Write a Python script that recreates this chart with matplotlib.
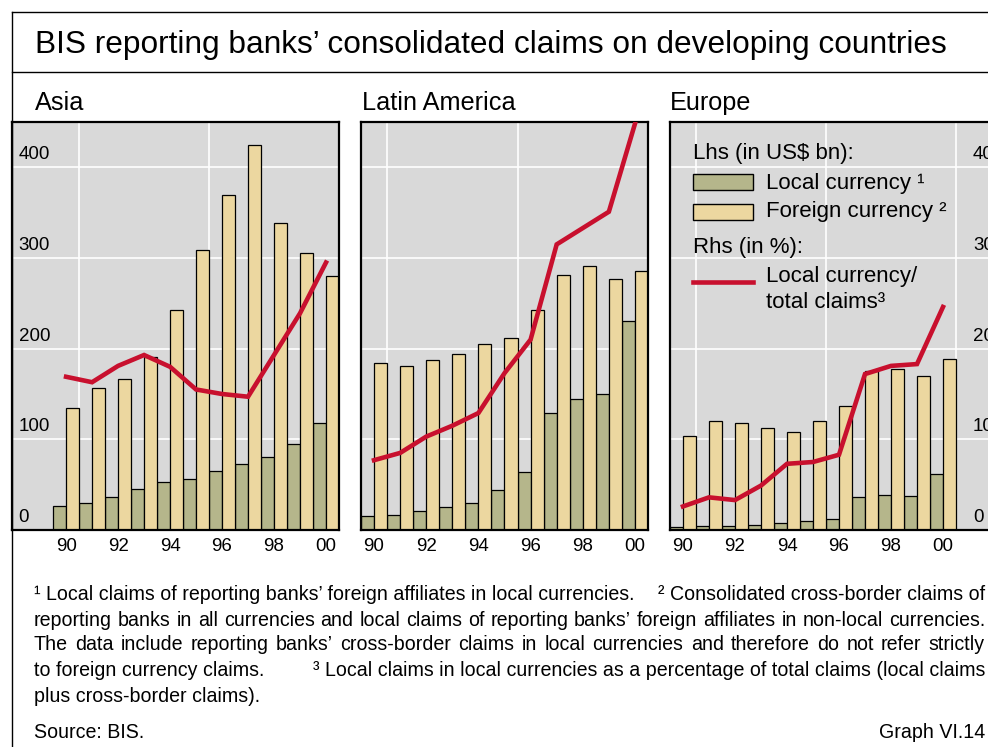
import numpy as np
import matplotlib
matplotlib.use("Agg")
import matplotlib.pyplot as plt
from matplotlib import transforms
from matplotlib.patches import Rectangle
from matplotlib.lines import Line2D

plt.rcParams['font.family'] = ['Liberation Sans', 'DejaVu Sans']

years = np.arange(1990, 2001)
tick_years = [1990, 1992, 1994, 1996, 1998, 2000]
year_labels = ["90", "92", "94", "96", "98", "00"]

# US$ bn (lhs) and % of total claims (rhs)
asia_local = [27, 30, 36, 45, 53, 56, 65, 73, 81, 95, 118]
asia_foreign = [135, 157, 166, 191, 243, 309, 369, 425, 339, 305, 280]
asia_share = [16.9, 16.3, 18.1, 19.3, 18.0, 15.5, 15.0, 14.7, 19.3, 23.9, 29.5]

latam_local = [15, 17, 21, 25, 30, 44, 64, 129, 144, 150, 231]
latam_foreign = [184, 181, 187, 194, 205, 212, 243, 281, 291, 277, 286]
latam_share = [7.7, 8.5, 10.3, 11.5, 12.9, 17.3, 21.0, 31.5, 33.3, 35.1, 44.8]

europe_local = [3, 4, 4, 5, 8, 10, 12, 36, 39, 38, 62]
europe_foreign = [104, 120, 118, 113, 108, 120, 137, 175, 178, 170, 189]
europe_share = [2.6, 3.6, 3.3, 4.9, 7.3, 7.5, 8.3, 17.2, 18.1, 18.3, 24.6]

lhs_ticks = [0, 100, 200, 300, 400]
rhs_ticks = [0, 10, 20, 30, 40]

GREEN = '#b5b68b'
TAN = '#ecd7a0'
GREY = '#d9d9d9'
RED = '#c8102e'

W, H = 988, 747
fig = plt.figure(figsize=(W / 100, H / 100), dpi=100)


def fx(x):
    return x / W


def fy(y):
    return 1 - y / H


def box(l, t, r, b):
    return [l / W, 1 - b / H, (r - l) / W, (b - t) / H]


# frame
for xs, ys in [([11.5, 11.5], [12, H]), ([11.5, W], [12, 12]), ([11.5, W], [72, 72])]:
    fig.add_artist(Line2D([fx(v) for v in xs], [fy(v) for v in ys],
                          transform=fig.transFigure, color='black', lw=1))

fig.text(fx(35), fy(45), "BIS reporting banks’ consolidated claims on developing countries",
         fontsize=22.8, va='center', ha='left')

panels = [
    ("Asia", 35, (11.5, 339), (1987.9, 2000.5), asia_local, asia_foreign, asia_share, 'left'),
    ("Latin America", 362, (361, 648), (1989.5, 2000.5), latam_local, latam_foreign, latam_share, None),
    ("Europe", 670, (670, 997.6), (1989.5, 2002.1), europe_local, europe_foreign, europe_share, 'right'),
]

for name, tx, (l, r), xlim, local, foreign, share, labels in panels:
    fig.text(fx(tx), fy(103), name, fontsize=18.2, va='center', ha='left')
    ax = fig.add_axes(box(l, 122, r, 530))
    ax.set_facecolor(GREY)
    ax.bar(years - 0.25, local, width=0.5, color=GREEN, edgecolor='black', lw=0.9, zorder=2)
    ax.bar(years + 0.25, foreign, width=0.5, color=TAN, edgecolor='black', lw=0.9, zorder=2)
    ax.set_xlim(*xlim)
    ax.set_ylim(0, 450)
    ax.set_yticks(lhs_ticks)
    ax.set_yticklabels([])
    ax.set_xticks(tick_years)
    ax.set_xticklabels(year_labels, fontsize=13.5)
    ax.set_xticks([1990.5, 1995.5, 2000.5], minor=True)
    ax.tick_params(which='both', length=0)
    ax.tick_params(axis='x', pad=6)
    ax.grid(True, which='major', axis='y', color='white', lw=1.2, zorder=1)
    ax.grid(True, which='minor', axis='x', color='white', lw=1.2, zorder=1)
    ax.set_axisbelow(True)
    for s in ax.spines.values():
        s.set_linewidth(1.6)

    ax2 = ax.twinx()
    ax2.set_ylim(0, 45)
    ax2.set_yticks([])
    ax2.plot(years, share, color=RED, lw=3.3, solid_joinstyle='miter', zorder=3)
    for s in ax2.spines.values():
        s.set_visible(False)

    if labels == 'left':
        trans = transforms.offset_copy(transforms.blended_transform_factory(ax.transAxes, ax.transData),
                                       fig=fig, y=8, units='dots')
        for v in lhs_ticks:
            ax.text(0.022, v, str(v), transform=trans, fontsize=13.5, ha='left', va='baseline')
    elif labels == 'right':
        trans = transforms.offset_copy(transforms.blended_transform_factory(ax2.transAxes, ax2.transData),
                                       fig=fig, y=8, units='dots')
        for v in rhs_ticks:
            ax2.text(0.925, v, str(v), transform=trans, fontsize=13.5, ha='left', va='baseline')

# legend drawn inside the Europe panel
lfs = 16
fig.text(fx(693), fy(153), "Lhs (in US$ bn):", fontsize=lfs, va='center')
fig.add_artist(Rectangle((fx(693), fy(189.5)), 60 / W, 15 / H, transform=fig.transFigure,
                         facecolor=GREEN, edgecolor='black', lw=1))
fig.text(fx(766), fy(183), "Local currency ¹", fontsize=lfs, va='center')
fig.add_artist(Rectangle((fx(693), fy(219.5)), 60 / W, 15 / H, transform=fig.transFigure,
                         facecolor=TAN, edgecolor='black', lw=1))
fig.text(fx(766), fy(212), "Foreign currency ²", fontsize=lfs, va='center')
fig.text(fx(693), fy(247), "Rhs (in %):", fontsize=lfs, va='center')
fig.add_artist(Line2D([fx(693), fx(753)], [fy(282), fy(282)], transform=fig.transFigure,
                      color=RED, lw=3.3))
fig.text(fx(766), fy(277), "Local currency/", fontsize=lfs, va='center')
fig.text(fx(766), fy(303), "total claims³", fontsize=lfs, va='center')

# footnotes
fs = 14.1
renderer = fig.canvas.get_renderer()


def justified(y, text, x0=34, x1=985):
    words = text.split(' ')
    arts = [fig.text(0, fy(y), w, fontsize=fs, va='center') for w in words]
    widths = [a.get_window_extent(renderer).width for a in arts]
    gap = (x1 - x0 - sum(widths)) / (len(words) - 1)
    x = x0
    for a, w in zip(arts, widths):
        a.set_x(fx(x))
        x += w + gap


fig.text(fx(34), fy(594), "¹ Local claims of reporting banks’ foreign affiliates in local currencies.",
         fontsize=fs, va='center')
fig.text(fx(985), fy(594), "² Consolidated cross-border claims of", fontsize=fs, va='center', ha='right')
justified(620, "reporting banks in all currencies and local claims of reporting banks’ foreign "
          "affiliates in non-local currencies.")
justified(645, "The data include reporting banks’ cross-border claims in local currencies and "
          "therefore do not refer strictly")
fig.text(fx(34), fy(671), "to foreign currency claims.", fontsize=fs, va='center')
fig.text(fx(985), fy(671), "³ Local claims in local currencies as a percentage of total claims (local claims",
         fontsize=fs, va='center', ha='right')
fig.text(fx(34), fy(696), "plus cross-border claims).", fontsize=fs, va='center')
fig.text(fx(34), fy(732), "Source: BIS.", fontsize=fs, va='center')
fig.text(fx(985), fy(732), "Graph VI.14", fontsize=fs, va='center', ha='right')

fig.savefig("out.png", dpi=100)
